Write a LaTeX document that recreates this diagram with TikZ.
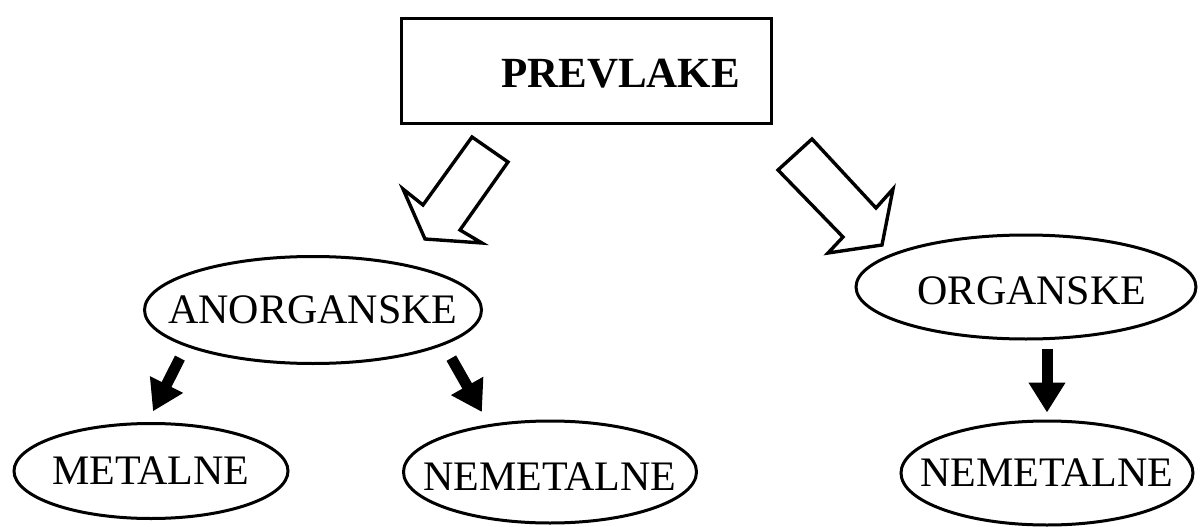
\documentclass[tikz,border=0pt]{standalone}
\usepackage{fontspec}
\setmainfont{Liberation Serif}
\usetikzlibrary{arrows.meta, shapes.geometric, calc}

\tikzset{
  kind/.style={ellipse, draw, line width=3pt, inner sep=0pt},
  hollow/.style={draw, line width=3.4pt, line join=miter, fill=white},
  blk/.style={line width=11pt, -{Triangle[width=35pt,length=30pt]}},
}

\begin{document}
\begin{tikzpicture}[x=1pt,y=-1pt,
  every label/.style={font=\fontsize{42}{50}\selectfont, inner sep=0pt}]
\useasboundingbox (0,0) rectangle (1200,527);
% top box
\node[draw, line width=3.8pt, minimum width=370pt, minimum height=105pt,
  label={[font=\bfseries\fontsize{43}{50}\selectfont, xshift=34pt, yshift=-3pt]center:PREVLAKE}] (prev) at (586.5,71) {};
% second level
\node[kind, minimum width=337pt, minimum height=107pt, label={center:ANORGANSKE}] (anorg) at (313,310) {};
\node[kind, minimum width=340pt, minimum height=104pt, label={[xshift=6pt,yshift=-4pt]center:ORGANSKE}] (organ) at (1026,287) {};
% third level
\node[kind, minimum width=274pt, minimum height=95pt, label={center:METALNE}] (metal) at (151,471) {};
\node[kind, minimum width=293pt, minimum height=102pt, label={[yshift=-5pt]center:NEMETALNE}] (nemm) at (550,472) {};
\node[kind, minimum width=292pt, minimum height=104pt, label={center:NEMETALNE}] (nemr) at (1047,473) {};
% hollow arrows
\draw[hollow] (472,137) -- (508,162) -- (460,230) -- (482,243) -- (425,239) -- (403,189) -- (423,205) -- cycle;
\draw[hollow] (812,139) -- (876,208) -- (893,189) -- (882,245) -- (828,253) -- (843,237) -- (778,170) -- cycle;
% black arrows
\draw[blk, shorten <=13pt, shorten >=12pt] (anorg.196) -- (metal.94);
\draw[blk, shorten <=15pt, shorten >=14pt] (anorg.345) -- (nemm.142);
\draw[blk, shorten <=8pt, shorten >=7pt] (organ.south -| nemr.north) -- (nemr.north);
\end{tikzpicture}
\end{document}
